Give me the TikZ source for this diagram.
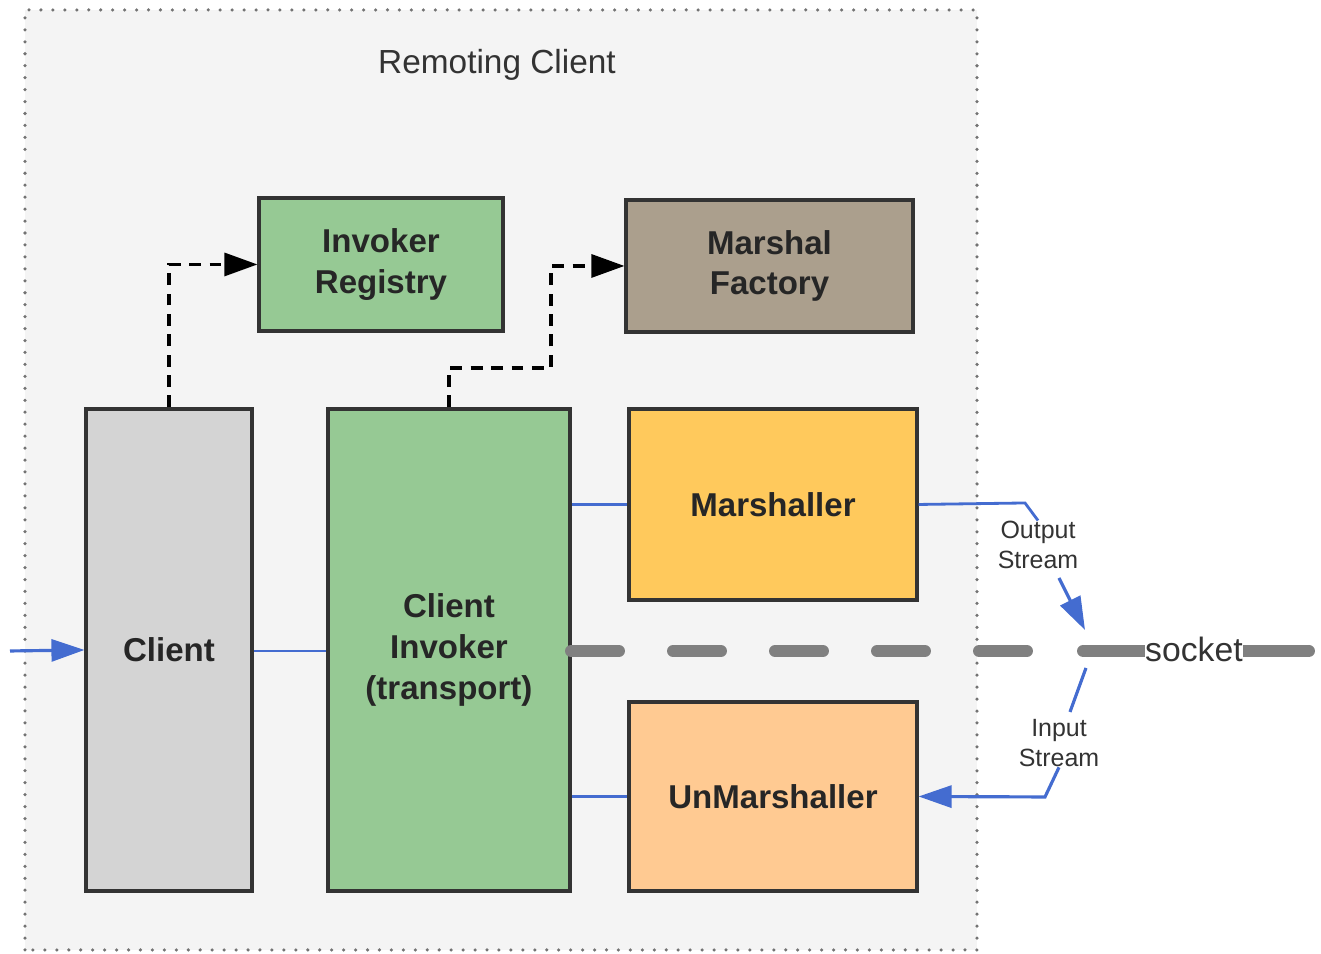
\documentclass[tikz,border=0pt]{standalone}
\usepackage{fontspec}
\setmainfont{Liberation Sans}
\usepackage{tikz}
\usetikzlibrary{calc}
\usetikzlibrary{positioning}
\usetikzlibrary{arrows.meta}

\definecolor{panelgray}{RGB}{244,244,244}
\definecolor{clientgray}{RGB}{212,212,212}
\definecolor{invgreen}{RGB}{150,201,148}
\definecolor{factorybrown}{RGB}{171,159,141}
\definecolor{marshyellow}{RGB}{255,201,92}
\definecolor{unmarshorange}{RGB}{255,202,146}
\definecolor{wireblue}{RGB}{68,108,208}
\definecolor{socketgray}{RGB}{128,128,128}

\begin{document}
\begin{tikzpicture}[>=latex,
  box/.style={draw=black!80, line width=0.9pt, text=black!85, align=center,
    font=\fontsize{9.4}{11.6}\selectfont\bfseries, inner sep=0pt},
  note/.style={text=black!80, align=center, inner sep=0pt,
    font=\fontsize{7.1}{8.5}\selectfont},
  dasharrow/.style={line width=0.9pt, dash pattern=on 3.4pt off 2.4pt,
    -{Triangle[length=3.3mm,width=2.3mm]}},
  wire/.style={wireblue, line width=0.6pt},
  wirearrow/.style={wireblue, line width=0.9pt, -{Triangle[length=3.3mm,width=2.2mm]}},
  sockline/.style={socketgray, line width=3.4pt, line cap=round}]

\useasboundingbox (0,0) rectangle (13.21,9.54);

\draw [fill=panelgray, draw=black!55, line width=1pt, line cap=round,
  dash pattern=on 0pt off 3.4pt] (0.25,0.04) rectangle (9.77,9.44);
\node (title) [text=black!80, font=\fontsize{9.5}{11}\selectfont] at (4.97,8.89) {Remoting Client};

\node (reg) [box, fill=invgreen, minimum width=2.44cm, minimum height=1.33cm] at (3.81,6.895) {Invoker\\Registry};
\node (fac) [box, fill=factorybrown, minimum width=2.87cm, minimum height=1.32cm] at (7.695,6.88) {Marshal\\Factory};
\node (cl) [box, fill=clientgray, minimum width=1.66cm, minimum height=4.82cm] at (1.69,3.04) {Client};
\node (inv) [box, fill=invgreen, minimum width=2.42cm, minimum height=4.82cm] at (4.49,3.04) {Client\\Invoker\\(transport)};
\node (mar) [box, fill=marshyellow, minimum width=2.88cm, minimum height=1.91cm] at (7.73,4.495) {Marshaller};
\node (unm) [box, fill=unmarshorange, minimum width=2.88cm, minimum height=1.89cm] at (7.73,1.575) {UnMarshaller};

\node (out) [note] at (10.38,4.09) {Output\\Stream};
\node (in) [note] at (10.59,2.11) {Input\\Stream};
\node (sock) [text=black!80, inner xsep=0pt, inner ysep=1pt,
  font=\fontsize{9.6}{11}\selectfont] at (11.94,3.05) {socket};

\coordinate (entry) at (0.10,3.03);
\coordinate (sockA) at (5.71,3.03);
\coordinate (sockB) at (10.31,3.03);
\coordinate (sockC) at (10.83,3.03);
\coordinate (sockD) at (13.09,3.03);
\coordinate (outbend) at (10.25,4.51);
\coordinate (outtail) at (10.59,3.76);
\coordinate (outtip) at (10.85,3.24);
\coordinate (intail) at (10.86,2.86);
\coordinate (inhead) at (10.70,2.42);
\coordinate (inbend) at (10.45,1.57);

\draw [sockline, dash pattern=on 0.48cm off 0.54cm] (sockA) -- (sockB);
\draw [sockline, line cap=butt] (sockC) -- (sock.west |- sockC);
\draw [sockline, line cap=butt] (sock.east |- sockD) -- (sockD);
\fill [socketgray] (sockC) circle (1.7pt) (sockD) circle (1.7pt);

\draw [dasharrow] (cl.north) |- (reg.west);
\draw [dasharrow] (inv.north) |- (5.51,5.86) |- (fac.west);

\draw [wirearrow] (entry) -- (cl.west);
\draw [wire] (cl.east |- entry) -- (inv.west |- entry);
\draw [wire] (inv.east |- mar.west) -- (mar.west);
\draw [wire] (inv.east |- unm.west) -- (unm.west);

\draw [wire, line width=0.8pt] (mar.east) -- (outbend) -- (out.north);
\draw [wirearrow] (outtail) -- (outtip);
\draw [wire, line width=0.9pt] (intail) -- (inhead);
\draw [wirearrow] (in.south) -- (inbend) -- (unm.east);

\end{tikzpicture}
\end{document}
